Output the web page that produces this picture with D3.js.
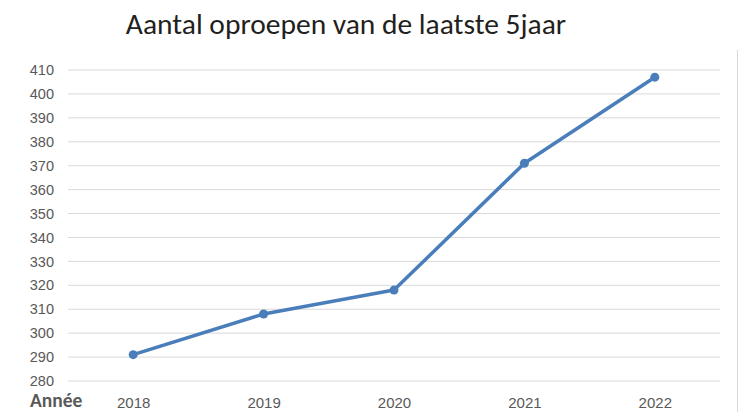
<!DOCTYPE html>
<html>
<head>
<meta charset="utf-8">
<script src="https://cdn.jsdelivr.net/npm/d3@7"></script>
<style>
  body { margin: 0; background: #fff; }
  svg { display: block; font-family: Carlito, "Open Sans", "Liberation Sans", sans-serif; }
</style>
</head>
<body>
<div id="chart"></div>
<script>
const years = ["2018", "2019", "2020", "2021", "2022"];
const calls = [291, 308, 318, 371, 407];
const yTicks = [280, 290, 300, 310, 320, 330, 340, 350, 360, 370, 380, 390, 400, 410];
const title = "Aantal oproepen van de laatste 5jaar";
const xTitle = "Année";

const width = 741, height = 412;
const margin = {top: 70, right: 21, bottom: 31, left: 68};

const svg = d3.select("#chart").append("svg")
  .attr("width", width)
  .attr("height", height);

const x = d3.scalePoint()
  .domain(years)
  .range([margin.left, width - margin.right])
  .padding(0.5);

const y = d3.scaleLinear()
  .domain([280, 410])
  .range([height - margin.bottom, margin.top]);

// gridlines
svg.append("g")
  .selectAll("line")
  .data(yTicks)
  .join("line")
  .attr("x1", margin.left)
  .attr("x2", width - margin.right)
  .attr("y1", d => y(d))
  .attr("y2", d => y(d))
  .attr("stroke", "#d9d9d9")
  .attr("stroke-width", 1);

// y labels
const yAxis = svg.append("g")
  .attr("transform", `translate(${margin.left - 14},0)`)
  .call(d3.axisLeft(y).tickValues(yTicks).tickSize(0).tickPadding(0));
yAxis.select(".domain").remove();
yAxis.selectAll("text")
  .attr("fill", "#595959")
  .style("font-size", "14.5px");

// x labels
const xAxis = svg.append("g")
  .attr("transform", `translate(0,408)`)
  .call(d3.axisBottom(x).tickSize(0).tickPadding(0));
xAxis.select(".domain").remove();
xAxis.selectAll("text")
  .attr("fill", "#595959")
  .attr("dy", 0)
  .style("font-size", "15px");

// right border
svg.append("line")
  .attr("x1", 737.5).attr("x2", 737.5)
  .attr("y1", 50).attr("y2", height)
  .attr("stroke", "#d9d9d9");

const data = years.map((yr, i) => ({year: yr, value: calls[i]}));

const line = d3.line()
  .x(d => x(d.year))
  .y(d => y(d.value));

svg.append("path")
  .datum(data)
  .attr("fill", "none")
  .attr("stroke", "#4a7ebb")
  .attr("stroke-width", 3.5)
  .attr("stroke-linejoin", "round")
  .attr("d", line);

svg.selectAll("circle.pt")
  .data(data)
  .join("circle")
  .attr("class", "pt")
  .attr("cx", d => x(d.year))
  .attr("cy", d => y(d.value))
  .attr("r", 4.5)
  .attr("fill", "#4a7ebb");

svg.append("text")
  .attr("x", 346)
  .attr("y", 34)
  .attr("text-anchor", "middle")
  .attr("fill", "#231f20")
  .style("font-size", "29.5px")
  .text(title);

svg.append("text")
  .attr("x", 30)
  .attr("y", 407)
  .attr("fill", "#595959")
  .style("font-size", "19.5px")
  .style("font-weight", "bold")
  .text(xTitle);
</script>
</body>
</html>
